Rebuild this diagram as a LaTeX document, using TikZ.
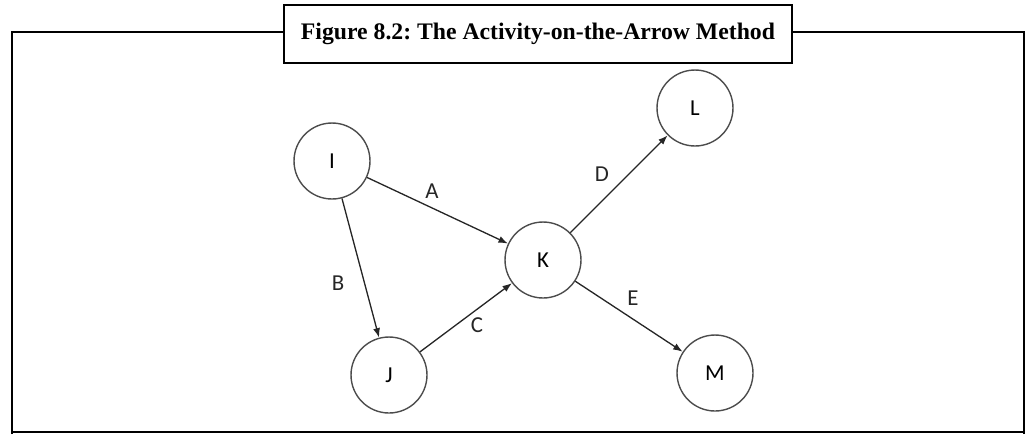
\documentclass[tikz,border=0pt]{standalone}
\usepackage{fontspec}
\setmainfont{Liberation Serif}
\newfontfamily\labelfont{Carlito}
\usetikzlibrary{arrows.meta}

\begin{document}
\begin{tikzpicture}[x=0.02cm, y=-0.02cm, >={Latex[length=1.9mm,width=1.4mm]}, every node/.style={font=\labelfont\fontsize{13}{15}\selectfont}]
    \tikzstyle{event}=[draw=black!70, line width=0.8pt, circle, minimum size=1.52cm, inner sep=0pt]
    \tikzstyle{activity}=[->, line width=0.75pt, black!85]
    \tikzstyle{actlabel}=[text=black!85, inner sep=0pt]
    \useasboundingbox (0,0) rectangle (1034,434);

    % frame round the figure
    \draw[line width=1.1pt] (12,434) -- (12,32) -- (1024,32) -- (1024,434);
    \draw[line width=1.1pt] (12,432) -- (1024,432);
    \node[draw, line width=1.1pt, fill=white, minimum width=10.18cm, minimum height=1.16cm, font=\rmfamily\bfseries\fontsize{13.5}{16}\selectfont] (title) at (538,34) {Figure 8.2:\ The\ Activity-on-the-Arrow\ Method};

    % events
    \node[event] (I) at (332,161) {I};
    \node[event] (J) at (389,375) {J};
    \node[event] (K) at (543,260) {K};
    \node[event] (L) at (695,108) {L};
    \node[event] (M) at (715,373) {M};

    % activities
    \draw[activity] (I) -- (K);
    \draw[activity] (I) -- (J);
    \draw[activity] (J) -- (K);
    \draw[activity] (K) -- (L);
    \draw[activity] (K) -- (M);

    \node[actlabel] (labA) at (432,191) {A};
    \node[actlabel] (labB) at (338,283) {B};
    \node[actlabel] (labC) at (477,325) {C};
    \node[actlabel] (labD) at (602,174) {D};
    \node[actlabel] (labE) at (633,298) {E};
\end{tikzpicture}
\end{document}
